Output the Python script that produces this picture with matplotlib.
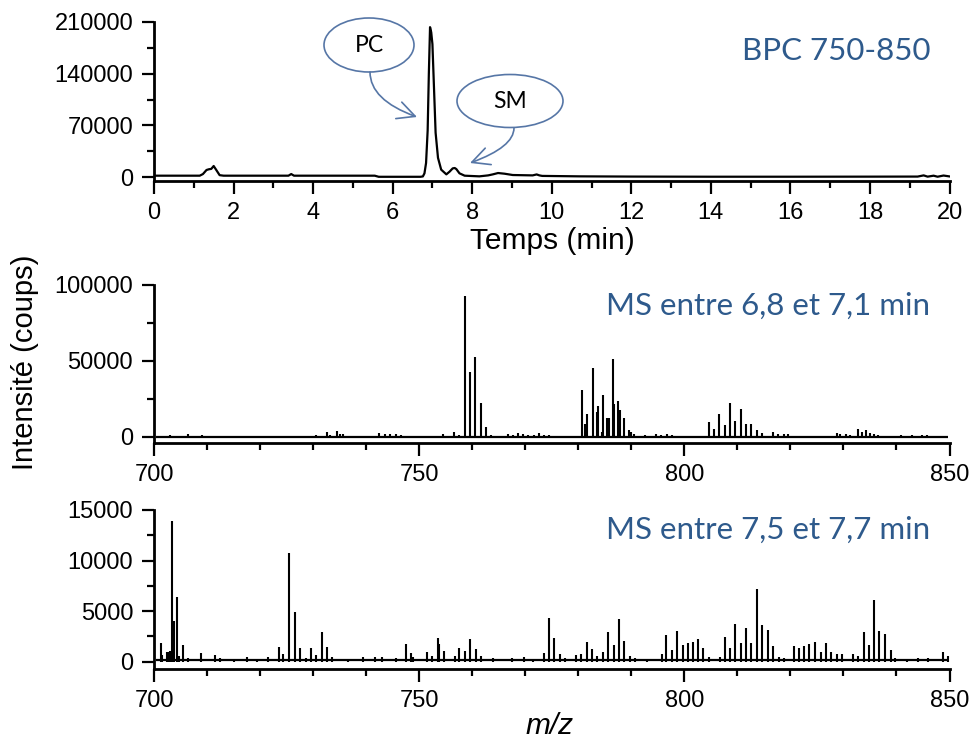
import matplotlib
matplotlib.use("Agg")
import matplotlib.pyplot as plt
from matplotlib.patches import Ellipse, FancyArrowPatch

plt.rcParams["font.family"] = ["Liberation Sans", "DejaVu Sans"]

# BPC 750-850 chromatogram
bpc_time = [0.0, 1.15, 1.23, 1.32, 1.38, 1.44, 1.50, 1.56, 1.65, 1.75,
            3.38, 3.45, 3.52, 5.55, 5.65, 6.70, 6.76, 6.80, 6.84, 6.88,
            6.91, 6.94, 6.97, 7.00, 7.04, 7.08, 7.14, 7.22, 7.35, 7.43,
            7.51, 7.56, 7.60, 7.68, 7.81, 8.18, 8.40, 8.52, 8.65, 8.81,
            9.02, 9.52, 9.62, 9.69, 9.76, 10.70, 12.0, 14.0, 16.0, 18.0,
            19.2, 19.35, 19.45, 19.6, 19.7, 19.85, 20.0]
bpc_int = [1800, 1800, 4000, 9500, 10500, 11000, 14900, 10000, 2500, 1800,
           1800, 4000, 1800, 1800, 300, 300, 800, 5000, 19000, 63000,
           140000, 203000, 196000, 180000, 120000, 60000, 26000, 10000, 3600, 7200,
           11700, 12200, 10800, 5000, 1800, 900, 2200, 3600, 5400, 4500,
           2700, 2200, 3500, 2200, 1500, 900, 600, 400, 400, 500,
           600, 2200, 500, 1800, 400, 2000, 800]

# MS between 6.8 and 7.1 min
ms1_mz = [703.0, 706.5, 709.0, 730.5, 732.6, 733.2, 734.6, 735.1, 735.7, 742.5,
          743.5, 744.5, 745.6, 746.5, 754.5, 756.6, 757.6, 758.6, 759.6, 760.6,
          761.6, 762.6, 763.6, 764.4, 766.7, 767.7, 768.6, 769.6, 770.6, 771.6,
          772.6, 773.6, 774.5, 778.5, 780.7, 781.3, 781.6, 782.7, 783.5, 783.8,
          784.4, 784.7, 785.5, 785.8, 786.5, 786.8, 787.5, 787.8, 788.6, 789.6,
          789.9, 790.5, 792.6, 794.7, 795.6, 796.7, 797.6, 798.6, 802.7, 804.6,
          805.6, 806.6, 807.6, 808.7, 809.6, 810.6, 811.6, 812.6, 813.7, 814.6,
          816.7, 817.6, 818.7, 819.6, 828.7, 829.4, 830.4, 831.3, 832.7, 833.5,
          834.2, 835.1, 835.8, 836.6, 840.8, 843.0, 844.8, 845.8]
ms1_int = [900, 1500, 1100, 1300, 2900, 1100, 3500, 2000, 1800, 2200,
           1500, 2000, 1500, 1300, 1500, 3300, 1200, 92700, 42400, 52300,
           22000, 6400, 900, 700, 2000, 800, 2500, 1500, 1200, 1000,
           2500, 1000, 1000, 500, 30800, 8400, 14700, 45000, 16000, 20400,
           3300, 27500, 12000, 12500, 51000, 21300, 23700, 17600, 12000, 4400,
           3000, 1500, 800, 2000, 800, 1500, 1000, 600, 500, 9900,
           4800, 14700, 7700, 22400, 10500, 18500, 8400, 8400, 4200, 2200,
           3300, 1500, 2000, 1500, 2500, 1500, 2000, 1300, 5000, 2800,
           4200, 2600, 1500, 1000, 800, 800, 1100, 800]

# MS between 7.5 and 7.7 min
ms2_mz = [701.3, 701.6, 702.4, 702.7, 703.0, 703.4, 703.7, 704.4, 704.7, 705.4,
          706.5, 708.9, 711.5, 712.5, 715.0, 717.5, 719.5, 721.5, 723.5, 724.4,
          725.5, 726.5, 727.6, 728.6, 729.6, 730.6, 731.6, 732.6, 733.6, 736.5,
          739.5, 741.7, 743.0, 745.6, 747.5, 748.4, 748.9, 751.5, 752.5, 753.5,
          753.8, 754.6, 756.7, 757.6, 758.7, 759.6, 760.7, 761.6, 764.0, 767.5,
          769.8, 771.5, 773.6, 774.5, 775.5, 776.6, 777.5, 779.6, 780.6, 781.6,
          782.6, 783.6, 784.6, 785.7, 786.7, 787.7, 788.7, 789.8, 790.7, 793.0,
          795.7, 796.6, 797.7, 798.6, 799.7, 800.6, 801.6, 802.6, 803.6, 804.7,
          806.7, 807.6, 808.6, 809.6, 810.7, 811.6, 812.6, 813.7, 814.7, 815.7,
          816.7, 817.8, 818.7, 820.6, 821.6, 822.6, 823.6, 824.7, 825.7, 826.7,
          827.7, 828.7, 829.7, 831.8, 832.8, 833.8, 834.8, 835.8, 836.8, 837.9,
          838.9, 839.8, 842.0, 844.0, 846.0, 848.8, 849.7]
ms2_int = [1880, 660, 950, 1000, 1050, 13950, 4050, 6400, 560, 1680,
           330, 820, 660, 330, 300, 430, 300, 460, 1420, 725,
           10780, 4900, 1320, 330, 1320, 660, 2900, 1420, 430, 300,
           430, 430, 430, 330, 1710, 820, 450, 920, 560, 2370,
           1750, 1090, 560, 1380, 1090, 2210, 1220, 560, 330, 330,
           430, 300, 820, 4290, 2370, 725, 330, 660, 760, 1950,
           1220, 590, 960, 2900, 1620, 4250, 2080, 560, 330, 300,
           725, 2600, 1150, 3000, 1620, 1880, 1950, 2210, 1380, 490,
           490, 2400, 1320, 3730, 1810, 3330, 1810, 7190, 3590, 3100,
           1520, 490, 330, 1520, 1380, 1580, 1750, 1980, 960, 1850,
           990, 760, 725, 760, 560, 2930, 1650, 6100, 3030, 2740,
           1120, 400, 300, 350, 400, 990, 560]

W, H = 971, 740
blue = "#2e5a8c"
edge = "#5676a6"
label_font = ["Lato", "DejaVu Sans"]

fig = plt.figure(figsize=(W / 100, H / 100), dpi=100)


def fx(x):
    return x / W


def fy(y):
    return 1 - y / H


def make_axes(top, bottom):
    ax = fig.add_axes([fx(154), fy(bottom), (949.5 - 154) / W, (bottom - top) / H])
    ax.spines["top"].set_visible(False)
    ax.spines["right"].set_visible(False)
    ax.spines["left"].set_linewidth(2)
    ax.spines["bottom"].set_linewidth(2)
    ax.tick_params(which="major", direction="out", length=9, width=1.6,
                   labelsize=17, pad=6, colors="black")
    ax.tick_params(which="minor", direction="out", length=5, width=1.6)
    ax.set_facecolor("none")
    return ax


# top: chromatogram
ax1 = make_axes(22, 181)
ax1.plot(bpc_time, bpc_int, color="black", lw=1.6)
ax1.set_xlim(0, 20)
ax1.set_ylim(-5400, 210000)
ax1.set_xticks(range(0, 21, 2))
ax1.set_xticks(range(1, 20, 2), minor=True)
ax1.set_yticks([0, 70000, 140000, 210000])
ax1.set_yticklabels(["0", "70000", "140000", "210000"])
ax1.set_yticks([35000, 105000, 175000], minor=True)

# middle: MS 6.8-7.1 min
ax2 = make_axes(285, 443)
ax2.hlines(0, 700.3, 849.8, color="black", lw=1.6)
ax2.vlines(ms1_mz, 0, ms1_int, color="black", lw=1.5)
ax2.set_xlim(700, 850)
ax2.set_ylim(-4150, 100000)
ax2.set_xticks([700, 750, 800, 850])
ax2.set_xticks(range(710, 850, 10), minor=True)
ax2.set_yticks([0, 50000, 100000])
ax2.set_yticklabels(["0", "50000", "100000"])
ax2.set_yticks([25000, 75000], minor=True)

# bottom: MS 7.5-7.7 min
ax3 = make_axes(510, 669)
ax3.hlines(160, 700.3, 849.8, color="black", lw=1.6)
ax3.vlines(ms2_mz, 0, ms2_int, color="black", lw=1.5)
ax3.set_xlim(700, 850)
ax3.set_ylim(-722, 15000)
ax3.set_xticks([700, 750, 800, 850])
ax3.set_xticks(range(710, 850, 10), minor=True)
ax3.set_yticks([0, 5000, 10000, 15000])
ax3.set_yticklabels(["0", "5000", "10000", "15000"])
ax3.set_yticks([2500, 7500, 12500], minor=True)

# axis labels
fig.text(fx(552), fy(241), "Temps (min)", ha="center", va="center", fontsize=21.5)
fig.text(fx(550), fy(726), "m/z", ha="center", va="center", fontsize=21.5, style="italic")
fig.text(fx(25), fy(362), "Intensité (coups)", ha="center", va="center",
         rotation=90, fontsize=21)

# panel captions
fig.text(fx(930), fy(60), "BPC 750-850", ha="right", va="baseline",
         fontsize=22.5, color=blue, family=label_font)
fig.text(fx(930), fy(315), "MS entre 6,8 et 7,1 min", ha="right", va="baseline",
         fontsize=22.5, color=blue, family=label_font)
fig.text(fx(930), fy(539), "MS entre 7,5 et 7,7 min", ha="right", va="baseline",
         fontsize=22.5, color=blue, family=label_font)

# callouts for PC and SM
for cx, cy, w, h, name in [(369, 45, 90, 54, "PC"), (510, 101, 106, 53, "SM")]:
    fig.add_artist(Ellipse((fx(cx), fy(cy)), w / W, h / H, transform=fig.transFigure,
                           facecolor="white", edgecolor=edge, lw=1.2))
    fig.text(fx(cx), fy(cy), name, ha="center", va="center", fontsize=16.5,
             family=label_font)

fig.add_artist(FancyArrowPatch((fx(370), fy(72)), (fx(417), fy(117)),
                               transform=fig.transFigure,
                               connectionstyle="angle3,angleA=90,angleB=-20",
                               arrowstyle="->,head_length=0.7,head_width=0.35",
                               mutation_scale=18, color=edge, lw=1.2,
                               shrinkA=0, shrinkB=0))
fig.add_artist(FancyArrowPatch((fx(514), fy(128)), (fx(470), fy(163)),
                               transform=fig.transFigure,
                               connectionstyle="angle3,angleA=90,angleB=20",
                               arrowstyle="->,head_length=0.7,head_width=0.35",
                               mutation_scale=18, color=edge, lw=1.2,
                               shrinkA=0, shrinkB=0))

fig.savefig("out.png", dpi=100)
